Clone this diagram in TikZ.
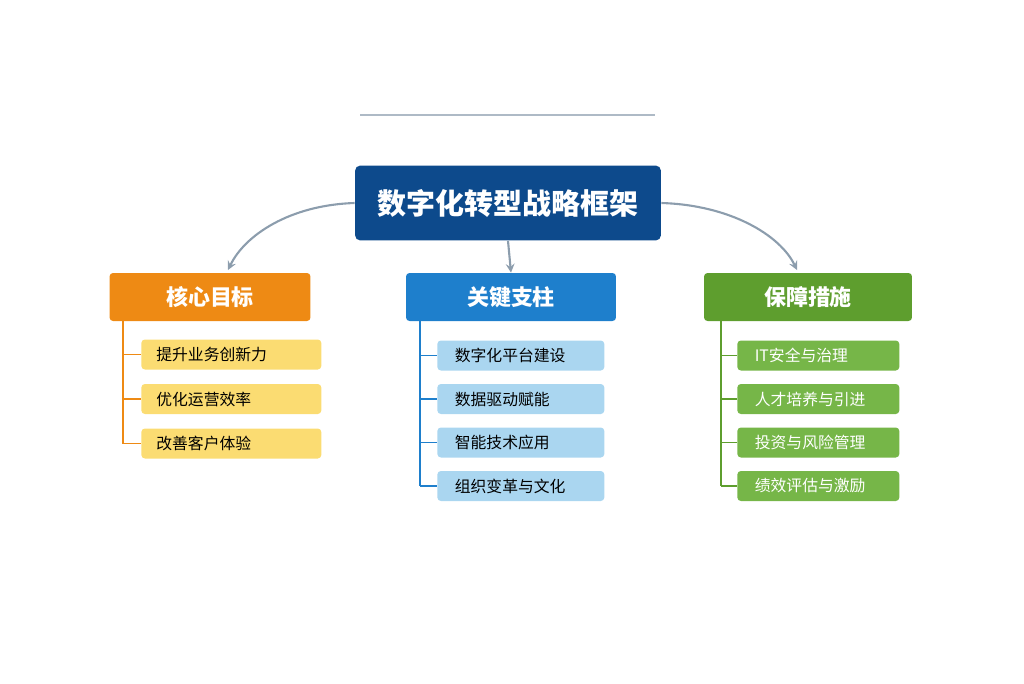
\documentclass[tikz,border=0pt]{standalone}
\usepackage{fontspec}
\setmainfont{Noto Sans CJK SC}
\usetikzlibrary{positioning,calc}
\definecolor{rootblue}{HTML}{0D4A8C}
\definecolor{headorange}{HTML}{EE8A14}
\definecolor{headblue}{HTML}{1E7FCC}
\definecolor{headgreen}{HTML}{5E9E2E}
\definecolor{itemyellow}{HTML}{FBDC72}
\definecolor{itemblue}{HTML}{AAD6F0}
\definecolor{itemgreen}{HTML}{76B648}
\definecolor{linkgray}{HTML}{8C9DAD}
\tikzset{
	head/.style={rounded corners=2pt, minimum width=4.1cm, minimum height=0.96cm, text=white, font=\bfseries\fontsize{12.5}{14}\selectfont},
	item/.style={rounded corners=2pt, minimum height=0.6cm, anchor=west, inner sep=0pt, text width=#1, align=left, font=\fontsize{9}{11}\selectfont},
	link/.style={linkgray, line width=1.2pt, -stealth},
}
\begin{document}
	\begin{tikzpicture}[x=0.02cm, y=-0.02cm]
		\useasboundingbox (0,0) rectangle (1024,683);
		\draw[linkgray!70, line width=0.6pt] (360,115) -- (655,115);
		\node[fill=rootblue, rounded corners=3pt, minimum width=6.12cm, minimum height=1.5cm, text=white, font=\bfseries\fontsize{16.5}{18}\selectfont] (root) at (508,203) {数字化转型战略框架};
		
		\node[head, fill=headorange, minimum width=4.02cm] (goal) at (210,297) {核心目标};
		\node[head, fill=headblue, minimum width=4.2cm] (pillar) at (511,297) {关键支柱};
		\node[head, fill=headgreen, minimum width=4.16cm] (guard) at (808,297) {保障措施};
		
		\draw[link] (root.west) .. controls (290,205) and (245,235) .. (228,270);
		\draw[link] (root.south) -- (pillar.north);
		\draw[link] (root.east) .. controls (730,205) and (780,235) .. (797,270);
		
		% left column
		\foreach \t [count=\i] in {提升业务创新力, 优化运营效率, 改善客户体验} {
			\node[item=2.6cm, fill=itemyellow, text width=3cm, inner xsep=0.3cm] (g\i) at (141,310+44.5*\i) {\t};
			\draw[headorange, line width=1pt] (123,310+44.5*\i) -- (g\i.west);
		}
		\draw[headorange, line width=1pt] (goal.south -| 123,0) -- (123,444);
		
		% middle column
		\foreach \t [count=\i] in {数字化平台建设, 数据驱动赋能, 智能技术应用, 组织变革与文化} {
			\node[item=2.6cm, fill=itemblue, text width=2.64cm, inner xsep=0.35cm] (p\i) at (437,312+43.5*\i) {\t};
			\draw[headblue, line width=1pt] (420,312+43.5*\i) -- (p\i.west);
		}
		\draw[headblue, line width=1pt] (pillar.south -| 420,0) -- (420,486);
		
		% right column
		\foreach \t [count=\i] in {IT安全与治理, 人才培养与引进, 投资与风险管理, 绩效评估与激励} {
			\node[item=2.6cm, fill=itemgreen, text=white, text width=2.54cm, inner xsep=0.35cm] (s\i) at (737,312+43.5*\i) {\t};
			\draw[headgreen, line width=1pt] (721,312+43.5*\i) -- (s\i.west);
		}
		\draw[headgreen, line width=1pt] (guard.south -| 721,0) -- (721,486);
	\end{tikzpicture}
\end{document}
